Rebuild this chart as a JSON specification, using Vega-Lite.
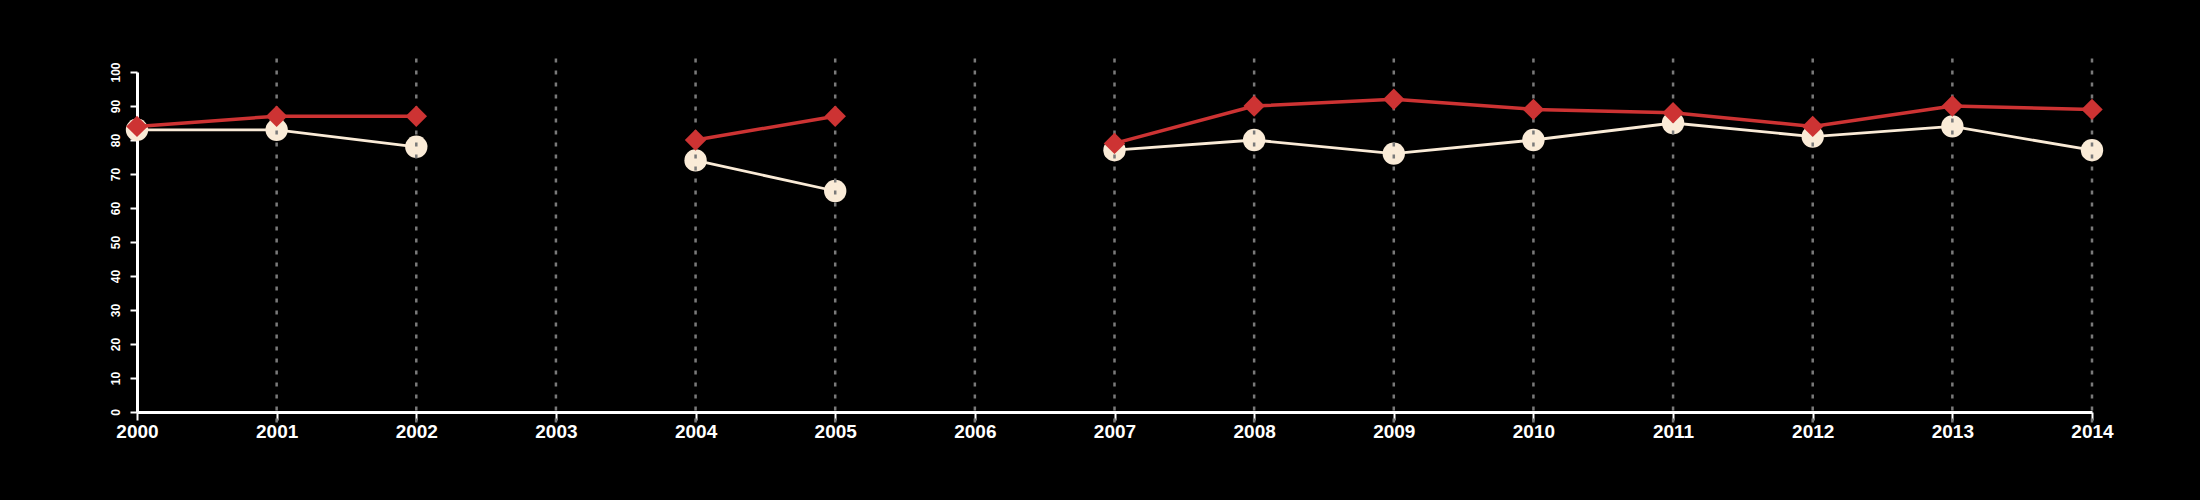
{
  "$schema": "https://vega.github.io/schema/vega-lite/v6.json",
  "autosize": {"type": "none"},
  "width": 1955,
  "height": 340,
  "padding": {"left": 137, "top": 72, "right": 108, "bottom": 88},
  "background": "#000000",
  "config": {
    "view": {"stroke": null},
    "axisY": {
      "title": null, "grid": false, "tickCount": 11,
      "labelAngle": 270, "labelFont": "Liberation Sans", "labelFontSize": 12, "labelFontWeight": "bold",
      "labelColor": "#ffffff", "labelPadding": 8, "labelFlush": false, "labelOverlap": false,
      "domainColor": "#ffffff", "domainWidth": 3,
      "tickColor": "#ffffff", "tickWidth": 2, "tickSize": 7
    }
  },
  "datasets": {
    "scores": [
      {"year": 2000, "series": "Series 1", "value": 84},
      {"year": 2001, "series": "Series 1", "value": 87},
      {"year": 2002, "series": "Series 1", "value": 87},
      {"year": 2003, "series": "Series 1", "value": null},
      {"year": 2004, "series": "Series 1", "value": 80},
      {"year": 2005, "series": "Series 1", "value": 87},
      {"year": 2006, "series": "Series 1", "value": null},
      {"year": 2007, "series": "Series 1", "value": 79},
      {"year": 2008, "series": "Series 1", "value": 90},
      {"year": 2009, "series": "Series 1", "value": 92},
      {"year": 2010, "series": "Series 1", "value": 89},
      {"year": 2011, "series": "Series 1", "value": 88},
      {"year": 2012, "series": "Series 1", "value": 84},
      {"year": 2013, "series": "Series 1", "value": 90},
      {"year": 2014, "series": "Series 1", "value": 89},
      {"year": 2000, "series": "Series 2", "value": 83},
      {"year": 2001, "series": "Series 2", "value": 83},
      {"year": 2002, "series": "Series 2", "value": 78},
      {"year": 2003, "series": "Series 2", "value": null},
      {"year": 2004, "series": "Series 2", "value": 74},
      {"year": 2005, "series": "Series 2", "value": 65},
      {"year": 2006, "series": "Series 2", "value": null},
      {"year": 2007, "series": "Series 2", "value": 77},
      {"year": 2008, "series": "Series 2", "value": 80},
      {"year": 2009, "series": "Series 2", "value": 76},
      {"year": 2010, "series": "Series 2", "value": 80},
      {"year": 2011, "series": "Series 2", "value": 85},
      {"year": 2012, "series": "Series 2", "value": 81},
      {"year": 2013, "series": "Series 2", "value": 84},
      {"year": 2014, "series": "Series 2", "value": 77}
    ],
    "grid": [
      {"year": 2001}, {"year": 2002}, {"year": 2003}, {"year": 2004}, {"year": 2005},
      {"year": 2006}, {"year": 2007}, {"year": 2008}, {"year": 2009}, {"year": 2010},
      {"year": 2011}, {"year": 2012}, {"year": 2013}, {"year": 2014}
    ]
  },
  "encoding": {
    "x": {
      "field": "year", "type": "quantitative",
      "scale": {"domain": [2000, 2014], "nice": false, "zero": false},
      "axis": {
        "title": null, "values": [2000,2001,2002,2003,2004,2005,2006,2007,2008,2009,2010,2011,2012,2013,2014],
        "format": "d", "grid": false,
        "labelFont": "Liberation Sans", "labelFontSize": 19, "labelFontWeight": "bold", "labelColor": "#ffffff",
        "labelPadding": 2, "labelFlush": false, "labelOverlap": false,
        "domainColor": "#ffffff", "domainWidth": 3,
        "tickColor": "#ffffff", "tickWidth": 2, "tickSize": 8
      }
    }
  },
  "layer": [
    {
      "data": {"name": "scores"},
      "transform": [{"filter": "datum.series === 'Series 2'"}],
      "mark": {"type": "line", "color": "#FAEBD7", "strokeWidth": 2.8, "invalid": "break-paths-show-domains"},
      "encoding": {
        "y": {
          "field": "value", "type": "quantitative",
          "scale": {"domain": [0, 100], "nice": false},
          "axis": {"values": [0,10,20,30,40,50,60,70,80,90,100]}
        }
      }
    },
    {
      "data": {"name": "scores"},
      "transform": [{"filter": "datum.series === 'Series 2' && datum.value != null"}],
      "mark": {"type": "point", "shape": "circle", "filled": true, "color": "#FAEBD7", "opacity": 1, "size": 500},
      "encoding": {"y": {"field": "value", "type": "quantitative", "axis": {"values": [0,10,20,30,40,50,60,70,80,90,100]}}}
    },
    {
      "data": {"name": "grid"},
      "mark": {"type": "rule", "color": "#7a7a7a", "strokeWidth": 2.5, "strokeDash": [4, 8]},
      "encoding": {
        "y": {"datum": 104, "type": "quantitative", "axis": {"values": [0,10,20,30,40,50,60,70,80,90,100]}},
        "y2": {"datum": -4}
      }
    },
    {
      "data": {"name": "scores"},
      "transform": [{"filter": "datum.series === 'Series 1'"}],
      "mark": {"type": "line", "color": "#CD3333", "strokeWidth": 3.5, "invalid": "break-paths-show-domains"},
      "encoding": {"y": {"field": "value", "type": "quantitative", "axis": {"values": [0,10,20,30,40,50,60,70,80,90,100]}}}
    },
    {
      "data": {"name": "scores"},
      "transform": [{"filter": "datum.series === 'Series 1' && datum.value != null"}],
      "mark": {"type": "point", "shape": "diamond", "filled": true, "color": "#CD3333", "opacity": 1, "size": 460},
      "encoding": {"y": {"field": "value", "type": "quantitative", "axis": {"values": [0,10,20,30,40,50,60,70,80,90,100]}}}
    }
  ]
}
